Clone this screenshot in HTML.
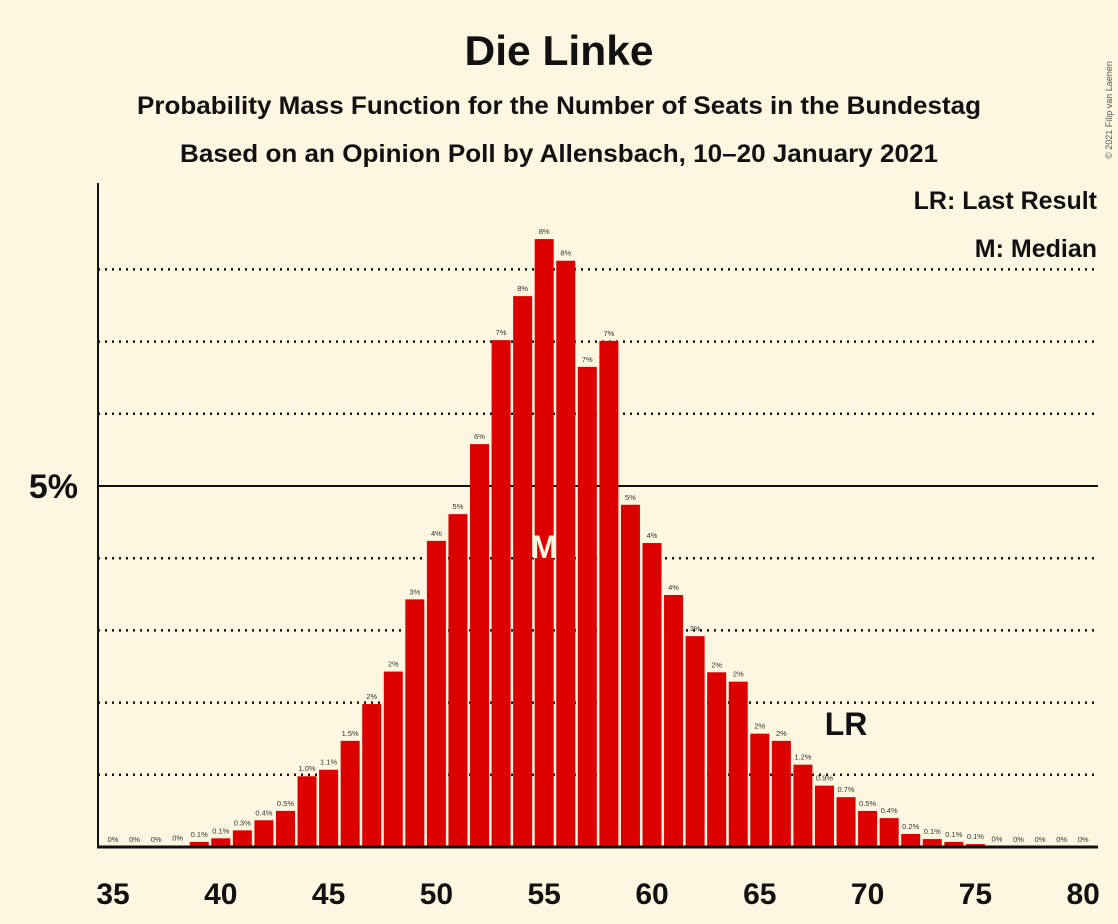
<!DOCTYPE html>
<html><head><meta charset="utf-8"><style>
body{margin:0;background:#fdf7e1;}
svg{display:block;font-family:"Liberation Sans",sans-serif;}
</style></head><body>
<svg id="c" width="1118" height="924">
<rect width="1118" height="924" fill="#fdf7e1"/>
<text x="559" y="65" text-anchor="middle" font-size="42" font-weight="bold" fill="#111" textLength="189" lengthAdjust="spacingAndGlyphs">Die Linke</text>
<text x="559" y="114" text-anchor="middle" font-size="25" font-weight="bold" fill="#111" textLength="844" lengthAdjust="spacingAndGlyphs">Probability Mass Function for the Number of Seats in the Bundestag</text>
<text x="559" y="162" text-anchor="middle" font-size="25" font-weight="bold" fill="#111" textLength="758" lengthAdjust="spacingAndGlyphs">Based on an Opinion Poll by Allensbach, 10–20 January 2021</text>
<text x="1112" y="110" font-size="9" fill="#555" transform="rotate(-90 1112 110)" text-anchor="middle">© 2021 Filip van Laenen</text>
<text x="1097" y="209" text-anchor="end" font-size="25" font-weight="bold" fill="#111">LR: Last Result</text>
<text x="1097" y="257" text-anchor="end" font-size="25" font-weight="bold" fill="#111">M: Median</text>
<g id="grid"></g><g id="bars"></g><g id="labels"></g>
</svg>
<script>
const seats=[35,36,37,38,39,40,41,42,43,44,45,46,47,48,49,50,51,52,53,54,55,56,57,58,59,60,61,62,63,64,65,66,67,68,69,70,71,72,73,74,75,76,77,78,79,80];
const values=[0,0,0,0.02,0.07,0.12,0.23,0.37,0.5,0.98,1.07,1.47,1.98,2.43,3.43,4.24,4.61,5.58,7.02,7.63,8.42,8.12,6.65,7.01,4.74,4.21,3.49,2.92,2.42,2.29,1.57,1.47,1.14,0.85,0.69,0.5,0.4,0.18,0.11,0.07,0.04,0.01,0,0,0,0];
const valueLabels=["0%","0%","0%","0%","0.1%","0.1%","0.3%","0.4%","0.5%","1.0%","1.1%","1.5%","2%","2%","3%","4%","5%","6%","7%","8%","8%","8%","7%","7%","5%","4%","4%","3%","2%","2%","2%","2%","1.2%","0.9%","0.7%","0.5%","0.4%","0.2%","0.1%","0.1%","0.1%","0%","0%","0%","0%","0%"];
const xTicks=[35,40,45,50,55,60,65,70,75,80];
const gridVals=[1,2,3,4,5,6,7,8];
const median=55, lastResult=69;
const NS="http://www.w3.org/2000/svg";
const x=s=>113+(s-35)*21.56;
const y=v=>847-v*72.2;
function mk(t,a,p){const e=document.createElementNS(NS,t);for(const k in a)e.setAttribute(k,a[k]);p.appendChild(e);return e;}
const svg=document.getElementById('c'),G=document.getElementById('grid'),B=document.getElementById('bars'),L=document.getElementById('labels');
gridVals.forEach(g=>{const ln=mk('line',{x1:98,x2:1098,y1:y(g),y2:y(g),stroke:'#111','stroke-width':g===5?2:2.5,'stroke-dasharray':g===5?'none':'2,5'},G);

});
const t5=mk('text',{x:78,y:y(5)+12,'text-anchor':'end','font-size':34,'font-weight':'bold',fill:'#111'},G);t5.textContent='5%';


seats.forEach((s,i)=>{const v=values[i];
const r=mk('rect',{x:x(s)-9.5,y:y(v),width:19,height:847-y(v),fill:'#dd0000'},B);


const t=mk('text',{x:x(s),y:y(v)-5,'text-anchor':'middle','font-size':7.5,fill:'#333'},L);t.textContent=valueLabels[i];

});
const ya=mk('line',{x1:98,x2:98,y1:183,y2:848,stroke:'#111','stroke-width':2},svg);


const xa=mk('line',{x1:97,x2:1098,y1:847,y2:847,stroke:'#111','stroke-width':3},svg);


xTicks.forEach(s=>{const t=mk('text',{x:x(s),y:904,'text-anchor':'middle','font-size':30,'font-weight':'bold',fill:'#111'},svg);t.textContent=s;

});
const m=mk('text',{x:x(median),y:558,'text-anchor':'middle','font-size':32,'font-weight':'bold',fill:'#fdf7e1'},svg);m.textContent='M';


const lr=mk('text',{x:x(lastResult),y:735,'text-anchor':'middle','font-size':32,'font-weight':'bold',fill:'#111'},svg);lr.textContent='LR';


</script>
</body></html>
